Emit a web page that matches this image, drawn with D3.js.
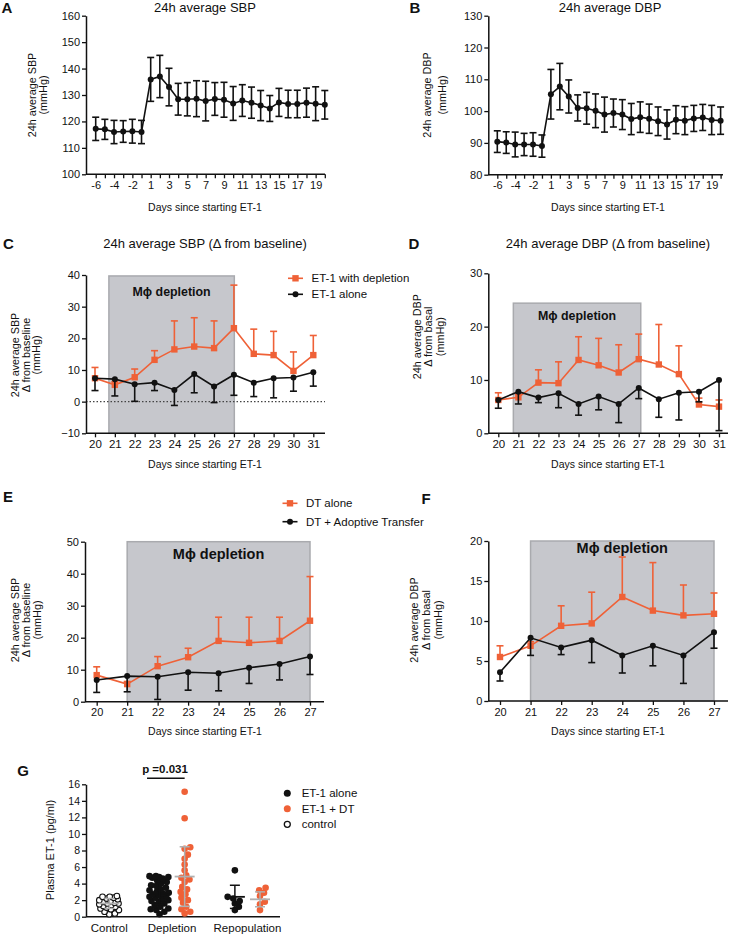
<!DOCTYPE html>
<html><head><meta charset="utf-8">
<script src="https://cdn.jsdelivr.net/npm/d3@7/dist/d3.min.js"></script>
<style>
body{margin:0;background:#fff;}
svg text{font-family:"Liberation Sans",Arial,Helvetica,sans-serif;fill:#111;}
</style></head><body>
<svg id="fig" width="730" height="935"></svg>
<script>
// ---------- DATA ----------
const daysA = [-6,-5,-4,-3,-2,-1,1,2,3,4,5,6,7,8,9,10,11,12,13,14,15,16,17,18,19,20];
const labelsA = ["-6","-4","-2","1","3","5","7","9","11","13","15","17","19"];
const sbpMean = [117.2,117.0,116.0,116.2,116.3,116.0,135.9,137.0,133.0,128.4,128.4,128.6,127.7,128.5,128.2,126.8,127.9,127.1,126.0,124.9,127.2,126.6,126.6,127.1,126.7,126.3];
const sbpErr  = [4.4,3.8,4.4,4.1,4.5,4.4,8.3,8.0,7.1,6.0,6.3,6.8,7.5,6.2,6.6,6.4,6.0,5.9,5.7,4.9,5.3,5.2,5.2,5.5,6.4,5.4];
const dbpMean = [90.4,90.1,89.5,89.5,89.5,89.0,105.3,107.7,104.6,101.0,100.9,100.1,98.9,99.4,98.9,97.5,98.1,97.6,96.8,95.8,97.3,97.0,97.7,98.0,97.2,97.0];
const dbpErr  = [3.4,3.4,3.9,3.5,3.7,3.5,7.8,7.3,5.2,4.1,5.0,5.3,5.5,4.4,4.7,4.9,4.8,4.6,4.5,4.6,4.4,4.4,4.1,4.1,4.6,4.3];

const daysC = [20,21,22,23,24,25,26,27,28,29,30,31];
const cDep      = [7.4,5.3,7.7,13.2,16.5,17.4,16.9,23.2,15.1,14.7,9.7,14.7];
const cDepErr   = [3.4,1.0,2.6,2.9,9.0,9.1,8.6,13.6,7.8,7.5,6.0,6.2];
const cAlone    = [7.4,7.1,5.5,6.0,3.7,8.7,4.8,8.5,6.0,7.4,7.6,9.3];
const cAloneErr = [3.9,5.3,5.4,2.5,4.9,5.9,5.1,6.5,4.4,6.2,4.3,4.4];
const dDep      = [6.25,6.75,9.5,9.4,13.75,12.75,11.4,13.9,12.9,11.1,5.4,5.0];
const dDepErr   = [1.35,0.6,2.4,4.0,4.35,5.05,5.2,4.7,7.5,5.3,1.2,1.25];
const dAlone    = [6.25,7.8,6.7,7.5,5.5,6.9,5.5,8.5,6.4,7.6,7.8,10.0];
const dAloneErr = [1.55,2.3,0.95,2.7,2.1,2.5,3.5,2.0,3.4,5.1,1.9,9.5];

const daysE = [20,21,22,23,24,25,26,27];
const eDT     = [8.3,5.5,11.1,13.9,19.0,18.4,19.0,25.3];
const eDTErr  = [2.6,0.8,3.0,2.8,7.4,8.0,7.4,13.8];
const eAT     = [6.8,8.0,7.8,9.2,8.9,10.6,11.8,14.1];
const eATErr  = [3.9,4.9,7.1,5.6,5.5,4.9,5.0,5.6];
const fDT     = [5.5,6.9,9.4,9.7,13.0,11.3,10.7,10.9];
const fDTErr  = [1.4,0.5,2.5,3.9,5.0,6.0,3.8,2.6];
const fAT     = [3.6,7.9,6.7,7.6,5.7,6.9,5.7,8.6];
const fATErr  = [1.1,2.2,0.9,2.8,2.2,2.5,3.5,2.0];

// depletion windows [start day, end day, top value]
const shadeC = [20.7,27.02,39.7];
const shadeD = [20.75,27.1,24.4];
const shadeE = [21,27,50];
const shadeF = [21,27,20];

const gGroups = ["Control","Depletion","Repopulation"];
const gControl  = [2.5,2.4,2.4,2.3,2.2,2.1,2.0,1.9,1.8,1.7,1.6,1.6,1.5,1.4,1.3,1.2,1.1,1.0,0.9,0.8,0.6,0.4,0.3];
const gDepAlone = [4.9,4.9,4.8,4.8,4.7,4.6,4.4,4.2,4.0,3.8,3.7,3.5,3.3,3.2,3.0,2.9,2.8,2.7,2.6,2.5,2.4,2.3,2.2,2.0,1.9,1.8,1.6,1.4,1.2,1.0,0.9,0.8,0.6,0.3];
const gDepDT    = [15.1,11.9,8.4,8.2,7.5,7.0,6.3,5.6,5.0,4.7,4.5,4.2,3.6,3.3,3.0,2.7,2.3,2.0,1.7,1.2,0.9,0.6,0.4];
const gRepAlone = [5.6,2.4,2.2,1.9,1.6,1.2,0.8];
const gRepDT    = [3.5,3.2,2.9,2.5,1.8,1.5,0.8];
const gMeans = [1.6,2.75,4.85,2.4,2.1];
const gSD    = [0.6,1.3,3.6,1.4,0.9];

// ---------- DRAWING ----------
const ORANGE="#ef6137", BLACK="#111", SHADE="#c6c7cc", SHADE_STROKE="#a9aaae", GREY="#b0b0b0";
const svg=d3.select("#fig");

function txt(x,y,s,o={}){
  const t=svg.append("text").attr("x",x).attr("y",y).attr("dominant-baseline","central")
    .attr("text-anchor",o.anchor||"middle").attr("font-size",o.size||11).text(s);
  if(o.bold) t.attr("font-weight","bold");
  if(o.rot) t.attr("transform",`rotate(-90,${x},${y})`);
  if(o.fill) t.style("fill",o.fill);
  return t;
}

function styleAxis(g,fs){
  g.selectAll("path.domain").attr("stroke",BLACK).attr("stroke-width",1.5);
  g.selectAll(".tick line").attr("stroke",BLACK).attr("stroke-width",1.3);
  g.selectAll(".tick text").attr("font-size",fs).style("fill","#111")
    .attr("font-family",'"Liberation Sans",Arial,sans-serif');
}

function panel(o){
  const g=svg.append("g");
  const y=d3.scaleLinear().domain(o.yDomain).range([o.bottom,o.top]);
  const xp=o.x;
  if(o.shade){
    const s=o.shade, x0=o.xl(s[0]), x1=o.xl(s[1]);
    g.append("rect").attr("x",x0).attr("y",y(s[2])).attr("width",x1-x0).attr("height",o.bottom-y(s[2]))
      .attr("fill",SHADE).attr("stroke",SHADE_STROKE).attr("stroke-width",1.5);
  }
  if(o.zero){
    g.append("line").attr("x1",o.left).attr("x2",o.right).attr("y1",y(0)).attr("y2",y(0))
      .attr("stroke","#444").attr("stroke-width",1.2).attr("stroke-dasharray","1.5,2");
  }
  const ya=g.append("g").attr("transform",`translate(${o.left},0)`)
    .call(d3.axisLeft(y).tickValues(o.yTicks).tickSize(4).tickSizeOuter(0).tickPadding(2));
  styleAxis(ya,11);
  const xa=g.append("g").attr("transform",`translate(0,${o.bottom})`)
    .call(d3.axisBottom(o.xAxisScale).tickValues(o.xTicks).tickSize(4).tickSizeOuter(0).tickPadding(3).tickFormat(o.xFmt||(d=>d)));
  xa.select("path.domain").remove();
  styleAxis(xa,o.xfs||11);
  g.append("line").attr("x1",o.left).attr("x2",o.right).attr("y1",o.bottom).attr("y2",o.bottom)
    .attr("stroke",BLACK).attr("stroke-width",1.5);
  if(o.shade){
    const s=o.shade;
    txt((o.xl(s[0])+o.xl(s[1]))/2,o.shadeTextY,"Mϕ depletion",{bold:true,size:o.shadeFs});
  }
  o.series.forEach(sr=>{
    const pts=sr.x.map((d,i)=>({x:xp(d),y:y(sr.y[i]),lo:y(sr.y[i]-sr.e[i]),hi:y(sr.y[i]+sr.e[i])}));
    const sg=svg.append("g");
    const cap=7;
    pts.forEach(p=>{
      const yTop = sr.dir==="down"? p.y : p.hi;
      const yBot = sr.dir==="up"? p.y : p.lo;
      sg.append("line").attr("x1",p.x).attr("x2",p.x).attr("y1",yTop).attr("y2",yBot)
        .attr("stroke",sr.color).attr("stroke-width",1.6);
      if(sr.dir!=="down") sg.append("line").attr("x1",p.x-cap/2).attr("x2",p.x+cap/2).attr("y1",p.hi).attr("y2",p.hi).attr("stroke",sr.color).attr("stroke-width",1.6);
      if(sr.dir!=="up") sg.append("line").attr("x1",p.x-cap/2).attr("x2",p.x+cap/2).attr("y1",p.lo).attr("y2",p.lo).attr("stroke",sr.color).attr("stroke-width",1.6);
    });
    sg.append("path").attr("d",d3.line().x(p=>p.x).y(p=>p.y)(pts)).attr("fill","none")
      .attr("stroke",sr.color).attr("stroke-width",1.6);
    pts.forEach(p=>{
      if(sr.marker==="square") sg.append("rect").attr("x",p.x-3.2).attr("y",p.y-3.2).attr("width",6.4).attr("height",6.4).attr("fill",sr.color);
      else sg.append("circle").attr("cx",p.x).attr("cy",p.y).attr("r",3).attr("fill",sr.color);
    });
  });
  return y;
}

// ---- Panel A ----
const xA=d3.scalePoint().domain(daysA).range([95.7,324.8]);
panel({left:86,right:325,top:15.7,bottom:174.3,yDomain:[100,160],yTicks:d3.range(100,161,10),
  x:xA,xAxisScale:xA,xTicks:daysA,xFmt:d=>labelsA.includes(String(d))?d:"",
  series:[{x:daysA,y:sbpMean,e:sbpErr,dir:"both",color:BLACK,marker:"circle"}]});
txt(7,7,"A",{bold:true,size:15});
txt(205,7,"24h average SBP",{size:13});
txt(32,95,"24h average SBP",{rot:true,size:10.8});
txt(43,95,"(mmHg)",{rot:true,size:10.8});
txt(205,207,"Days since starting ET-1",{size:10.5});

// ---- Panel B ----
const xB=d3.scalePoint().domain(daysA).range([497.3,720.6]);
panel({left:488.3,right:723,top:15.7,bottom:174.7,yDomain:[80,130],yTicks:d3.range(80,131,10),
  x:xB,xAxisScale:xB,xTicks:daysA,xFmt:d=>labelsA.includes(String(d))?d:"",
  series:[{x:daysA,y:dbpMean,e:dbpErr,dir:"both",color:BLACK,marker:"circle"}]});
txt(415,7,"B",{bold:true,size:15});
txt(610,7,"24h average DBP",{size:13});
txt(427,95,"24h average DBP",{rot:true,size:10.8});
txt(441.5,95,"(mmHg)",{rot:true,size:10.8});
txt(608,207,"Days since starting ET-1",{size:10.5});

// ---- Panel C ----
const xC=d3.scaleLinear().domain([20,31]).range([95,313.3]);
panel({left:86,right:325,top:275,bottom:433.3,yDomain:[-10,40],yTicks:d3.range(-10,41,10),
  x:xC,xl:xC,xAxisScale:xC,xTicks:daysC,zero:true,shade:shadeC,shadeTextY:292.3,shadeFs:12.4,xfs:11.5,
  series:[{x:daysC,y:cDep,e:cDepErr,dir:"up",color:ORANGE,marker:"square"},
          {x:daysC,y:cAlone,e:cAloneErr,dir:"down",color:BLACK,marker:"circle"}]});
txt(8.5,243,"C",{bold:true,size:15});
txt(205,243,"24h average SBP (Δ from baseline)",{size:13});
txt(15,355,"24h average SBP",{rot:true,size:10.8});
txt(25.5,355,"Δ from baseline",{rot:true,size:10.8});
txt(36,355,"(mmHg)",{rot:true,size:10.8});
txt(205,464,"Days since starting ET-1",{size:10.5});

// ---- Panel D ----
const xD=d3.scaleLinear().domain([20,31]).range([498.3,719]);
panel({left:488.3,right:728,top:273.3,bottom:433.3,yDomain:[0,30],yTicks:[0,10,20,30],
  x:xD,xl:xD,xAxisScale:xD,xTicks:daysC,shade:shadeD,shadeTextY:315.7,shadeFs:12.4,xfs:11.5,
  series:[{x:daysC,y:dDep,e:dDepErr,dir:"up",color:ORANGE,marker:"square"},
          {x:daysC,y:dAlone,e:dAloneErr,dir:"down",color:BLACK,marker:"circle"}]});
txt(414,243,"D",{bold:true,size:15});
txt(608,243,"24h average DBP (Δ from baseline)",{size:13});
txt(416.7,336.7,"24h average DBP",{rot:true,size:10.8});
txt(428.3,336.7,"Δ from basal",{rot:true,size:10.8});
txt(440,336.7,"(mmHg)",{rot:true,size:10.8});
txt(608,464,"Days since starting ET-1",{size:10.5});

function legendItem(x,y,color,marker,label,fs){
  svg.append("line").attr("x1",x-7.5).attr("x2",x+7.5).attr("y1",y).attr("y2",y).attr("stroke",color).attr("stroke-width",1.6);
  if(marker==="square") svg.append("rect").attr("x",x-3.2).attr("y",y-3.2).attr("width",6.4).attr("height",6.4).attr("fill",color);
  else svg.append("circle").attr("cx",x).attr("cy",y).attr("r",3).attr("fill",color);
  txt(x+16,y,label,{anchor:"start",size:fs});
}
legendItem(295.5,278.3,ORANGE,"square","ET-1 with depletion",11.5);
legendItem(295.5,294.3,BLACK,"circle","ET-1 alone",11.5);

// ---- Panel E ----
const xE=d3.scaleLinear().domain([20,27]).range([96.7,310]);
panel({left:85,right:324,top:541.7,bottom:701.7,yDomain:[0,50],yTicks:d3.range(0,51,10),
  x:xE,xl:xE,xAxisScale:xE,xTicks:daysE,shade:shadeE,shadeTextY:554.3,shadeFs:14.5,xfs:11,
  series:[{x:daysE,y:eDT,e:eDTErr,dir:"up",color:ORANGE,marker:"square"},
          {x:daysE,y:eAT,e:eATErr,dir:"down",color:BLACK,marker:"circle"}]});
txt(8,496.7,"E",{bold:true,size:15});
txt(15,620,"24h average SBP",{rot:true,size:10.8});
txt(26,620,"Δ from baseline",{rot:true,size:10.8});
txt(36.7,620,"(mmHg)",{rot:true,size:10.8});
txt(205,731,"Days since starting ET-1",{size:10.5});
legendItem(290,503.3,ORANGE,"square","DT alone",11.5);
legendItem(290,521.7,BLACK,"circle","DT + Adoptive Transfer",11.5);

// ---- Panel F ----
const xF=d3.scaleLinear().domain([20,27]).range([500,714]);
panel({left:488.3,right:728,top:541,bottom:701,yDomain:[0,20],yTicks:d3.range(0,21,5),
  x:xF,xl:xF,xAxisScale:xF,xTicks:daysE,shade:shadeF,shadeTextY:548.3,shadeFs:14.5,xfs:11,
  series:[{x:daysE,y:fDT,e:fDTErr,dir:"up",color:ORANGE,marker:"square"},
          {x:daysE,y:fAT,e:fATErr,dir:"down",color:BLACK,marker:"circle"}]});
txt(426,498.3,"F",{bold:true,size:15});
txt(414.3,620,"24h average DBP",{rot:true,size:10.8});
txt(426,620,"Δ from basal",{rot:true,size:10.8});
txt(437.7,620,"(mmHg)",{rot:true,size:10.8});
txt(608,731,"Days since starting ET-1",{size:10.5});

// ---- Panel G ----
const gy=d3.scaleLinear().domain([0,16]).range([916.7,784.3]);
const slots=["Control","s1","DepA","DepB","s2","RepA","RepB"];
const gx=d3.scalePoint().domain(slots).range([109.3,260]);
const gya=svg.append("g").attr("transform","translate(86,0)")
  .call(d3.axisLeft(gy).tickValues(d3.range(0,17,2)).tickSize(4).tickSizeOuter(0).tickPadding(2));
styleAxis(gya,10.5);
svg.append("line").attr("x1",86).attr("x2",280).attr("y1",916.7).attr("y2",916.7).attr("stroke",BLACK).attr("stroke-width",1.5);

function swarm(vals,cx,r,maxHalf){
  const placed=[];
  const sorted=[...vals].sort((a,b)=>a-b);
  const dmin=r*1.55;
  for(const v of sorted){
    const py=gy(v); let best=null;
    for(let k=0;k<60;k++){
      const off=(k%2?1:-1)*Math.ceil(k/2)*0.8;
      if(Math.abs(off)>maxHalf) continue;
      if(placed.every(p=>Math.hypot(p.x-(cx+off),p.y-py)>=dmin)){best=cx+off;break;}
    }
    if(best===null){
      let bs=-1;
      for(let off=-maxHalf;off<=maxHalf;off+=0.8){
        const m=Math.min(...placed.map(p=>Math.hypot(p.x-(cx+off),p.y-py)));
        if(m>bs){bs=m;best=cx+off;}
      }
    }
    placed.push({x:best,y:py});
  }
  return placed;
}
const gSets=[
  {vals:gControl,slot:"Control",fill:"#fff",stroke:BLACK,bar:GREY},
  {vals:gDepAlone,slot:"DepA",fill:BLACK,stroke:BLACK,bar:BLACK},
  {vals:gDepDT,slot:"DepB",fill:ORANGE,stroke:ORANGE,bar:GREY},
  {vals:gRepAlone,slot:"RepA",fill:BLACK,stroke:BLACK,bar:BLACK},
  {vals:gRepDT,slot:"RepB",fill:ORANGE,stroke:ORANGE,bar:GREY}];
const R=3.3;
gSets.forEach(s=>{
  swarm(s.vals,gx(s.slot),R,10).forEach(p=>{
    svg.append("circle").attr("cx",p.x).attr("cy",p.y).attr("r",s.fill==="#fff"?R-0.5:R)
      .attr("fill",s.fill).attr("stroke",s.stroke).attr("stroke-width",s.fill==="#fff"?1.1:0);
  });
});
gSets.forEach((s,i)=>{
  const cx=gx(s.slot), m=gMeans[i], sd=gSD[i];
  svg.append("line").attr("x1",cx-10).attr("x2",cx+10).attr("y1",gy(m)).attr("y2",gy(m)).attr("stroke",s.bar).attr("stroke-width",1.8);
  svg.append("line").attr("x1",cx).attr("x2",cx).attr("y1",gy(m+sd)).attr("y2",gy(Math.max(0,m-sd))).attr("stroke",s.bar).attr("stroke-width",1.5);
  [m+sd,Math.max(0,m-sd)].forEach(v=>svg.append("line").attr("x1",cx-5).attr("x2",cx+5).attr("y1",gy(v)).attr("y2",gy(v)).attr("stroke",s.bar).attr("stroke-width",1.5));
});
txt(gx("Control"),928.3,gGroups[0],{size:11.5});
txt((gx("DepA")+gx("DepB"))/2,928.3,gGroups[1],{size:11.5});
txt((gx("RepA")+gx("RepB"))/2,928.3,gGroups[2],{size:11.5});
txt(50,850,"Plasma ET-1 (pg/ml)",{rot:true,size:11});
txt(23,770,"G",{bold:true,size:15});
svg.append("line").attr("x1",gx("DepA")-12.5).attr("x2",gx("DepB")).attr("y1",778.3).attr("y2",778.3).attr("stroke",BLACK).attr("stroke-width",1.4);
txt(165,769.3,"p =0.031",{bold:true,size:11.5});
[[BLACK,BLACK,"ET-1 alone"],[ORANGE,ORANGE,"ET-1 + DT"],["#fff",BLACK,"control"]].forEach((d,i)=>{
  const yy=793.3+i*15.5;
  svg.append("circle").attr("cx",287.3).attr("cy",yy).attr("r",d[0]==="#fff"?3:3.5).attr("fill",d[0]).attr("stroke",d[1]).attr("stroke-width",d[0]==="#fff"?1.3:0);
  txt(301.7,yy,d[2],{anchor:"start",size:11.5});
});
</script></body></html>
